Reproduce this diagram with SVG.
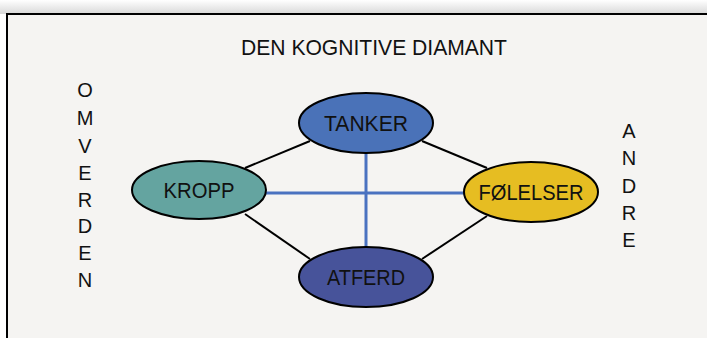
<svg xmlns="http://www.w3.org/2000/svg" width="707" height="338" viewBox="0 0 707 338">
<defs>
<linearGradient id="sh" x1="0" y1="0" x2="0" y2="1">
<stop offset="0" stop-color="#ffffff"/>
<stop offset="1" stop-color="#d8d8d8"/>
</linearGradient>
<style>
.node{stroke:#000;stroke-width:2}
.lbl{font-family:"Liberation Sans","Arial",sans-serif;font-size:22px;fill:#111;text-anchor:middle}
.side{font-family:"Liberation Sans","Arial",sans-serif;font-size:20px;fill:#111;text-anchor:middle}
.blk{stroke:#000;stroke-width:2;fill:none}
.blu{stroke:#4a72c0;stroke-width:3;fill:none}
</style>
</defs>
<rect x="0" y="0" width="707" height="338" fill="#ffffff"/>
<rect x="0" y="0" width="707" height="14" fill="url(#sh)"/>
<rect x="7" y="14" width="720" height="340" fill="#f5f4f2" stroke="#000" stroke-width="2"/>
<text x="374" y="55" class="lbl" textLength="266" lengthAdjust="spacingAndGlyphs">DEN KOGNITIVE DIAMANT</text>
<g id="omverden" class="side">
<text x="85" y="97">O</text>
<text x="85" y="125">M</text>
<text x="85" y="153">V</text>
<text x="85" y="180">E</text>
<text x="85" y="207">R</text>
<text x="85" y="233">D</text>
<text x="85" y="260">E</text>
<text x="85" y="287">N</text>
</g>
<g id="andre" class="side">
<text x="629" y="138">A</text>
<text x="629" y="165">N</text>
<text x="629" y="193">D</text>
<text x="629" y="220">R</text>
<text x="629" y="247">E</text>
</g>
<g id="connectors">
<line class="blk" x1="245" y1="168" x2="310" y2="141"/>
<line class="blk" x1="422" y1="141" x2="487" y2="168"/>
<line class="blk" x1="245" y1="214" x2="310" y2="259"/>
<line class="blk" x1="422" y1="259" x2="487" y2="216"/>
<line class="blu" x1="266" y1="193" x2="464" y2="193"/>
<line class="blu" x1="366" y1="153" x2="366" y2="247"/>
</g>
<g id="tanker">
<ellipse class="node" cx="366" cy="123" rx="67" ry="30" fill="#4a72b8"/>
<text class="lbl" x="366" y="131" textLength="84" lengthAdjust="spacingAndGlyphs">TANKER</text>
</g>
<g id="kropp">
<ellipse class="node" cx="199" cy="190" rx="67" ry="29" fill="#64a4a0"/>
<text class="lbl" x="199" y="198" textLength="71" lengthAdjust="spacingAndGlyphs">KROPP</text>
</g>
<g id="folelser">
<ellipse class="node" cx="531" cy="192" rx="67" ry="30" fill="#e6bd22"/>
<text class="lbl" x="531" y="200" textLength="105" lengthAdjust="spacingAndGlyphs">FØLELSER</text>
</g>
<g id="atferd">
<ellipse class="node" cx="366" cy="277" rx="67" ry="30" fill="#47539a"/>
<text class="lbl" x="366" y="285" textLength="78" lengthAdjust="spacingAndGlyphs">ATFERD</text>
</g>
</svg>
